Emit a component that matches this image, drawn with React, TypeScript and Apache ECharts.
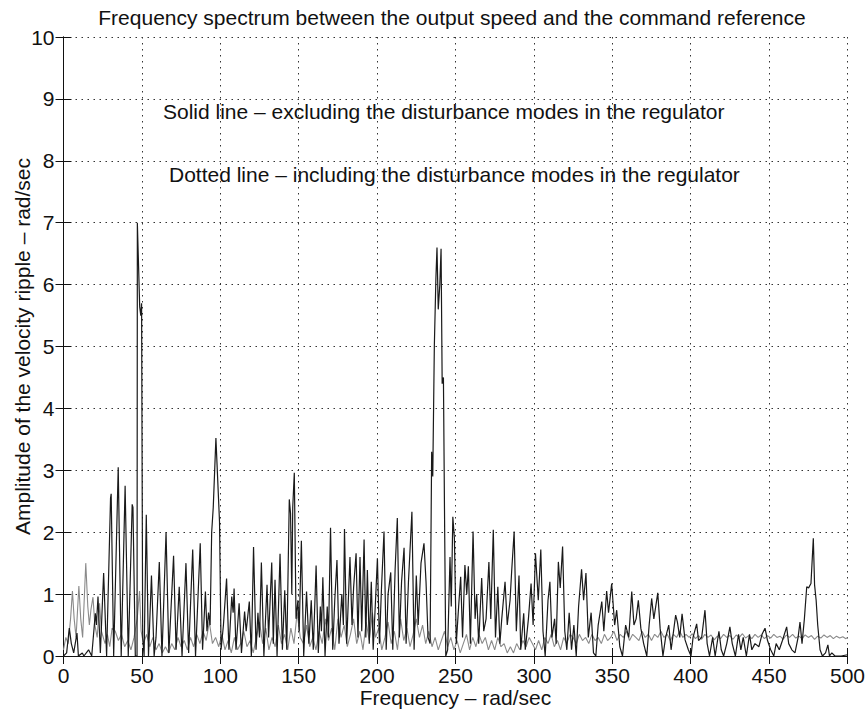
import React, { useEffect, useRef } from "react";
import * as echarts from "echarts";

const titleText = "Frequency spectrum between the output speed and the command reference";
const xAxisName = "Frequency – rad/sec";
const yAxisName = "Amplitude of the velocity ripple – rad/sec";
const noteSolid = "Solid line – excluding the disturbance modes in the regulator";
const noteDotted = "Dotted line – including the disturbance modes in the regulator";

const freqMin = 0;
const freqMax = 500;
const freqStep = 50;
const ampMin = 0;
const ampMax = 10;
const ampStep = 1;

// [frequency (rad/sec), amplitude (rad/sec)] — regulator without disturbance modes
const solidSpectrum: [number, number][] = [
  [0, 0], [2, 0.05], [3.7, 0.45], [5, 0.2], [6.5, 0.05], [8.6, 0.37], [9.5, 0], [12, 0.05],
  [13, 0], [16, 0.1], [18, 0], [20.3, 0.69], [21, 0.5], [22, 0.96], [23.5, 0.05], [25.6, 1.34],
  [27.5, 0], [30, 2.55], [30.4, 2.62], [32, 0], [34.9, 3.05], [36.8, 0], [39.3, 2.75], [41.3, 0],
  [43.8, 2.45], [44.3, 2.4], [45.8, 0], [46.9, 0], [47.1, 7.0], [48.6, 5.64], [49.3, 5.5],
  [49.8, 5.7], [50.5, 0.3], [51.4, 0], [52.8, 2.28], [54.2, 0], [56.1, 1.3], [57.8, 0], [59, 0.3],
  [61.1, 1.52], [62.8, 0], [65.4, 2.0], [67.2, 0.05], [70.2, 1.62], [71.8, 0.1], [73.8, 1.12],
  [75.6, 0], [78.1, 1.5], [79.8, 0.05], [82.4, 1.72], [84.2, 0], [87.2, 1.82], [88.7, 0.1],
  [90.5, 1.04], [91.5, 0.4], [92.5, 0.7], [93.5, 0.5], [94.5, 2.0], [95.5, 2.4], [97.2, 3.52],
  [99.5, 2.17], [100.5, 0.1], [102, 0.5], [104, 1.25], [105.5, 0.1], [107.3, 0.96], [108.2, 0.7],
  [108.8, 1.09], [110, 0.1], [112, 0.85], [113.5, 0.05], [115.5, 0.72], [116.5, 0.4], [118.5, 0.88],
  [119.8, 0], [121.2, 1.76], [122.8, 0.1], [124, 0.7], [125, 0.3], [126.2, 1.51], [127.8, 0],
  [129.8, 1.15], [130.8, 0.3], [132.8, 1.51], [133.8, 0.2], [134.9, 1.23], [136.2, 0], [138.1, 1.65],
  [139.6, 0.1], [141.1, 1.06], [142.4, 0.1], [144, 2.53], [144.8, 2.3], [145.6, 1.0], [146.2, 2.4],
  [147.2, 2.96], [148.3, 0.6], [149.5, 0.9], [150.3, 0.4], [151.7, 1.86], [153.2, 0], [155, 1.04],
  [156.5, 0.2], [158, 0.9], [159.3, 0.1], [161.1, 1.46], [162.5, 0.05], [163.8, 0.8], [164.5, 0.4],
  [165.4, 1.27], [166.8, 0], [168.2, 0.8], [169, 0.3], [170.3, 2.07], [171.7, 0.1], [173, 0.9],
  [174.4, 1.55], [175.7, 0.2], [177.5, 1.0], [178.5, 0.5], [179.2, 2.05], [180.6, 0.2], [182.7, 1.6],
  [184, 0.5], [185, 1.1], [186.6, 1.66], [187.8, 0.3], [189.1, 1.6], [190.2, 0.4], [191.7, 1.88],
  [192.8, 0.3], [193.8, 1.39], [195, 0.2], [196.3, 1.2], [197.5, 0.1], [199, 0.9], [200.2, 1.58],
  [201.5, 0.2], [202.8, 1.1], [204.4, 2.01], [205.8, 0.1], [207, 1.0], [208.7, 1.35], [210, 0.1],
  [211.5, 1.4], [212.9, 2.23], [214.2, 0.3], [215.6, 1.2], [217.2, 1.75], [218.5, 0.2], [220, 1.2],
  [222.2, 2.33], [223.6, 0.1], [225, 1.3], [226.2, 0.5], [228, 1.5], [229.9, 1.82], [231.2, 1.2],
  [232.5, 0.3], [233.8, 0.2], [234.8, 3.3], [235.5, 2.9], [236.5, 5.0], [237.5, 6.1], [238.2, 6.6],
  [239, 5.6], [240, 6.0], [240.8, 6.58], [241.5, 4.4], [242.3, 4.5], [243.1, 2.0], [243.8, 0],
  [245, 0.1], [246.5, 1.6], [247.3, 0.8], [248.3, 2.25], [249.3, 1.9], [250.5, 0.2], [252, 0.8],
  [253.3, 1.28], [254.5, 0.3], [256, 1.47], [257.2, 1.0], [258.2, 1.45], [259.5, 0.2], [261.2, 2.01],
  [262.5, 0.6], [263.5, 1.0], [264.8, 0.2], [266.7, 1.26], [268, 0.4], [269.5, 0.6], [271.3, 1.52],
  [272.5, 0.6], [274.1, 2.04], [275.5, 0.3], [277, 1.12], [278.3, 0.2], [279.5, 0.6], [281.6, 1.2],
  [283, 0.5], [284.8, 0.9], [285.8, 1.36], [287.4, 2.01], [288.8, 0.4], [290.5, 1.3], [291.6, 0.1],
  [293.5, 0.69], [294.5, 0.1], [296.5, 0.6], [298.2, 1.17], [299.5, 0.5], [301, 1.66], [302.8, 0.9],
  [304.4, 1.72], [305.8, 0.4], [307.2, 0], [309, 0.9], [310.2, 1.2], [311.5, 0.3], [313.2, 0.6],
  [314.2, 0.2], [315.6, 1.52], [316.8, 1.1], [318.3, 1.77], [319.7, 0.4], [321, 0.1], [322.5, 0.7],
  [324, 0.1], [325.5, 0.5], [327, 0], [328.5, 0.8], [330.4, 1.4], [331.7, 0.9], [333.2, 1.34],
  [334.7, 0.3], [336.5, 0.7], [338, 0.05], [339.5, 0], [341, 0.5], [343.3, 0.88], [344.6, 0.4],
  [346.4, 1.05], [347.6, 0.7], [349.6, 1.17], [351.5, 0.5], [352.8, 0.74], [354.8, 0.15], [356.5, 0],
  [358.5, 0.5], [360.5, 0.3], [362.4, 1.04], [363.8, 0.5], [365.2, 0.6], [366.6, 0.9], [368.2, 0.45],
  [370, 0.2], [372, 0], [373.5, 0.5], [375.1, 0.93], [376.5, 0.6], [379, 1.02], [380.5, 0.45],
  [382.3, 0], [384, 0.3], [386, 0.5], [387.5, 0.1], [390.4, 0.66], [391.5, 0.55], [393, 0.3],
  [394.5, 0.68], [396.4, 0.26], [398.5, 0.1], [400.2, 0], [401.5, 0.3], [403.8, 0.52], [405, 0.25],
  [407, 0.3], [409.1, 0.74], [410.5, 0.2], [412, 0], [414, 0.3], [415.6, 0], [418, 0.4], [419.5, 0.1],
  [421, 0], [423, 0.2], [425, 0.47], [426.5, 0.2], [428.5, 0], [430.5, 0.35], [432, 0.1], [433.5, 0.3],
  [435.5, 0], [437.5, 0.35], [439, 0.1], [441, 0.2], [443.5, 0.15], [445.5, 0.35], [447.4, 0.45],
  [449, 0.25], [451, 0.1], [453, 0], [454.5, 0.2], [456.5, 0.1], [458.5, 0.25], [461.2, 0.47],
  [462.5, 0.2], [464.5, 0.1], [466.5, 0.05], [468.5, 0.3], [469.7, 0.55], [471, 0.2], [472.5, 0.6],
  [474, 1.12], [475.2, 1.1], [476.7, 1.17], [478.2, 1.9], [479, 1.15], [480, 0.9], [481, 0.5],
  [482.5, 0.1], [484, 0], [486, 0.05], [487.5, 0.18], [488.5, 0], [490, 0.05], [492, 0], [496, 0],
  [500, 0.02],
];

// [frequency (rad/sec), amplitude (rad/sec)] — regulator with disturbance modes
const dottedSpectrum: [number, number][] = [
  [0, 0.1], [1.5, 0.3], [3, 0.2], [4.5, 0.6], [5.7, 1.05], [6.8, 0.6], [8, 0.3], [9.8, 1.13],
  [11, 0.6], [12.2, 0.3], [14.2, 1.5], [15.5, 0.8], [16.5, 0.5], [17.5, 0.75], [18.8, 0.95],
  [20, 0.5], [21.5, 0.3], [23, 0.85], [24.2, 0.4], [26.5, 0.2], [28, 0.35], [29.5, 0.15],
  [31, 0.45], [33, 0.4], [35, 0.25], [37, 0.35], [39, 0.15], [41, 0.25], [43, 0.1], [45, 0.3],
  [47, 0.6], [48.5, 1.05], [49.5, 0.4], [51, 0.2], [53, 0.35], [55, 0.15], [57, 0.3], [59, 0.1],
  [61, 0.2], [63, 0.05], [65, 0.15], [67, 0.05], [69, 0.2], [71, 0.1], [73, 0.3], [75, 0.15],
  [77, 0.25], [79, 0.1], [81, 0.3], [83, 0.15], [85, 0.35], [87, 0.2], [89, 0.4], [91, 0.25],
  [93, 0.55], [95, 0.2], [97, 0.3], [99, 0.15], [101, 0.35], [103, 0.1], [105, 0.25], [107, 0.05],
  [109, 0.3], [111, 0.1], [113, 0.2], [115, 0.4], [117, 0.15], [119, 0.25], [121, 0.05], [123, 0.3],
  [125, 0.55], [127, 0.2], [129, 0.45], [131, 0.1], [133, 0.3], [135, 0.15], [137, 0.5], [139, 0.2],
  [141, 0.35], [143, 0.1], [145, 0.45], [147, 0.2], [149, 0.7], [151, 0.3], [153, 0.2], [155, 0.5],
  [157, 0.15], [159, 0.3], [161, 0.1], [163, 0.4], [165, 0.2], [167, 0.6], [169, 0.25], [171, 0.45],
  [173, 0.1], [175, 0.6], [177, 0.3], [179, 0.5], [181, 0.15], [183, 0.35], [185, 0.6], [187, 0.2],
  [189, 0.4], [191, 0.1], [193, 0.55], [195, 0.25], [197, 0.7], [199, 0.3], [201, 0.45], [203, 0.1],
  [205, 0.3], [207, 0.55], [209, 0.2], [211, 0.4], [213, 0.1], [215, 0.6], [217, 0.25], [219, 0.45],
  [221, 0.15], [223, 0.35], [225, 0.6], [227, 0.3], [229, 0.5], [231, 0.2], [233, 0.4], [235, 0.15],
  [237, 0.3], [239, 0.1], [241, 0.25], [243, 0.4], [245, 0.15], [247, 0.3], [249, 0.1], [251, 0.25],
  [253, 0.05], [255, 0.2], [257, 0.35], [259, 0.1], [261, 0.3], [263, 0.15], [265, 0.35], [267, 0.2],
  [269, 0.3], [271, 0.1], [273, 0.25], [275, 0.1], [277, 0.3], [279, 0.15], [281, 0.2], [283, 0.05],
  [285, 0.15], [287, 0.05], [289, 0.2], [291, 0.1], [293, 0.25], [295, 0.15], [297, 0.3], [299, 0.2],
  [301, 0.1], [303, 0.25], [305, 0.1], [307, 0.3], [309, 0.2], [311, 0.35], [313, 0.15], [315, 0.25],
  [317, 0.1], [319, 0.3], [321, 0.2], [323, 0.35], [325, 0.3], [327, 0.2], [329, 0.35], [331, 0.25],
  [333, 0.3], [335, 0.2], [337, 0.35], [339, 0.25], [341, 0.3], [343, 0.2], [345, 0.35], [347, 0.25],
  [349, 0.3], [351, 0.4], [353, 0.25], [355, 0.35], [357, 0.3], [359, 0.4], [361, 0.25], [363, 0.35],
  [365, 0.3], [367, 0.25], [369, 0.4], [371, 0.3], [373, 0.35], [375, 0.25], [377, 0.35], [379, 0.3],
  [381, 0.4], [383, 0.3], [385, 0.35], [387, 0.25], [389, 0.35], [391, 0.3], [393, 0.4], [395, 0.3],
  [397, 0.35], [399, 0.3], [401, 0.36], [403, 0.28], [405, 0.33], [407, 0.27], [409, 0.35], [411, 0.3],
  [413, 0.34], [415, 0.26], [417, 0.32], [419, 0.28], [421, 0.35], [423, 0.3], [425, 0.33], [427, 0.27],
  [429, 0.34], [431, 0.3], [433, 0.36], [435, 0.29], [437, 0.33], [439, 0.28], [441, 0.35], [443, 0.3],
  [445, 0.34], [447, 0.28], [449, 0.33], [451, 0.29], [453, 0.35], [455, 0.3], [457, 0.32], [459, 0.27],
  [461, 0.34], [463, 0.3], [465, 0.35], [467, 0.29], [469, 0.32], [471, 0.28], [473, 0.34], [475, 0.3],
  [477, 0.33], [479, 0.27], [481, 0.32], [483, 0.29], [485, 0.34], [487, 0.3], [489, 0.33], [491, 0.28],
  [493, 0.32], [495, 0.29], [497, 0.31], [499, 0.28], [500, 0.3],
];

const FONT = "'Liberation Sans', Arial, Helvetica, sans-serif";
const TEXT_SIZE = 21;

const gridDots = { color: "#333", width: 1, type: [1.5, 4.5] as number[] };
const frame = { show: true, lineStyle: { color: "#111", width: 1 } };
const innerTicks = { show: true, inside: true, length: 8, lineStyle: { color: "#111", width: 1 } };

export default function App() {
  const ref = useRef<HTMLDivElement>(null);

  useEffect(() => {
    if (!ref.current) return;
    const chart = echarts.init(ref.current, undefined, { renderer: "svg" });
    chart.setOption({
      animation: false,
      backgroundColor: "#fff",
      textStyle: { fontFamily: FONT },
      grid: {
        left: 63.5, right: 18.5, top: 37, bottom: 59,
        containLabel: false, outerBoundsMode: "none",
      },
      graphic: [
        {
          type: "text", x: 452, y: 17,
          style: { text: titleText, fontSize: TEXT_SIZE, fontFamily: FONT, fill: "#111", align: "center", verticalAlign: "middle" },
        },
        {
          type: "text", x: 163, y: 111,
          style: { text: noteSolid, fontSize: TEXT_SIZE, fontFamily: FONT, fill: "#111", align: "left", verticalAlign: "middle" },
        },
        {
          type: "text", x: 169, y: 174,
          style: { text: noteDotted, fontSize: TEXT_SIZE, fontFamily: FONT, fill: "#111", align: "left", verticalAlign: "middle" },
        },
      ],
      xAxis: [
        {
          type: "value", position: "bottom", min: freqMin, max: freqMax, interval: freqStep,
          axisLine: frame, axisTick: innerTicks,
          axisLabel: { color: "#111", fontSize: TEXT_SIZE, fontFamily: FONT, margin: 9 },
          splitLine: { show: true, lineStyle: gridDots },
          name: xAxisName, nameLocation: "middle", nameGap: 31, nameMoveOverlap: false,
          nameTextStyle: { color: "#111", fontSize: TEXT_SIZE, fontFamily: FONT },
        },
        {
          type: "value", position: "top", min: freqMin, max: freqMax, interval: freqStep,
          axisLine: frame, axisTick: innerTicks, axisLabel: { show: false }, splitLine: { show: false },
        },
      ],
      yAxis: [
        {
          type: "value", position: "left", min: ampMin, max: ampMax, interval: ampStep,
          axisLine: frame, axisTick: innerTicks,
          axisLabel: { color: "#111", fontSize: TEXT_SIZE, fontFamily: FONT, margin: 9 },
          splitLine: { show: true, lineStyle: gridDots },
          name: yAxisName, nameLocation: "middle", nameRotate: 90, nameGap: 31, nameMoveOverlap: false,
          nameTextStyle: { color: "#111", fontSize: TEXT_SIZE, fontFamily: FONT },
        },
        {
          type: "value", position: "right", min: ampMin, max: ampMax, interval: ampStep,
          axisLine: frame, axisTick: innerTicks, axisLabel: { show: false }, splitLine: { show: false },
        },
      ],
      series: [
        {
          name: "including disturbance modes", type: "line", xAxisIndex: 0, yAxisIndex: 0,
          data: dottedSpectrum, showSymbol: false, symbol: "none",
          lineStyle: { color: "#8a8a8a", width: 1.1 }, z: 3,
        },
        {
          name: "excluding disturbance modes", type: "line", xAxisIndex: 0, yAxisIndex: 0,
          data: solidSpectrum, showSymbol: false, symbol: "none",
          lineStyle: { color: "#1a1a1a", width: 1.2 }, z: 4,
        },
      ],
    });
    return () => chart.dispose();
  }, []);

  return (
    <div
      ref={ref}
      style={{ position: "fixed", left: 0, top: 0, width: 866, height: 715, background: "#fff" }}
    />
  );
}
